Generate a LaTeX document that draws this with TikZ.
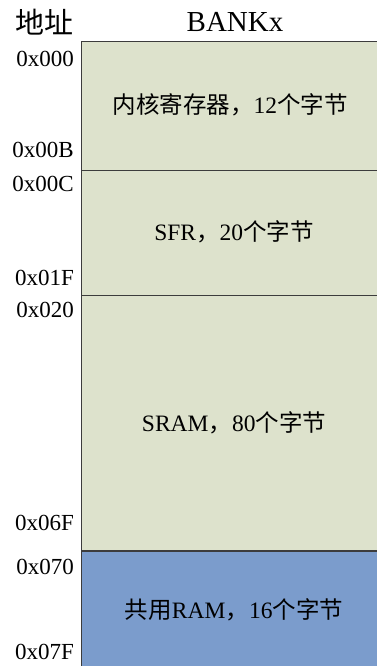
\documentclass[tikz,border=0pt]{standalone}
\usepackage{fontspec}
\setmainfont{Liberation Serif}
\newfontfamily\cjk{Noto Sans CJK SC}
\definecolor{cellgreen}{RGB}{221,226,204}
\definecolor{cellblue}{RGB}{123,156,204}
\definecolor{edge}{RGB}{60,60,60}
\begin{document}
\begin{tikzpicture}[x=1pt,y=-1pt,
  addr/.style={anchor=east,inner sep=0pt,font=\fontsize{23}{23}\selectfont},
  head/.style={inner sep=0pt,font=\fontsize{29}{29}\selectfont},
  celltext/.style={inner sep=0pt,font=\fontsize{23.5}{23.5}\selectfont}]
\useasboundingbox (0,0) rectangle (377,666);
\fill[cellgreen] (81,42) rectangle (380,551);
\fill[cellblue] (81,551) rectangle (380,670);
\draw[edge,line width=1pt] (81,42) -- (380,42);
\draw[edge,line width=1pt] (81,170) -- (380,170);
\draw[edge,line width=1pt] (81,295.5) -- (380,295.5);
\draw[edge,line width=2pt] (81,551) -- (380,551);
\draw[edge,line width=1pt] (81,42) -- (81,670);
\node[head] (hdaddr) at (44,22) {\cjk 地址};
\node[head] (hdbank) at (235,22) {BANKx};
\node[addr] (a0) at (74,59) {0x000};
\node[addr] (a1) at (74,150) {0x00B};
\node[addr] (a2) at (74,184) {0x00C};
\node[addr] (a3) at (74,278) {0x01F};
\node[addr] (a4) at (74,310) {0x020};
\node[addr] (a5) at (74,523) {0x06F};
\node[addr] (a6) at (74,567) {0x070};
\node[addr] (a7) at (74,652) {0x07F};
\node[celltext] (c0) at (230,105) {{\cjk 内核寄存器，}12{\cjk 个字节}};
\node[celltext] (c1) at (234,232) {SFR{\cjk ，}20{\cjk 个字节}};
\node[celltext] (c2) at (234,423) {SRAM{\cjk ，}80{\cjk 个字节}};
\node[celltext] (c3) at (234,610) {{\cjk 共用}RAM{\cjk ，}16{\cjk 个字节}};
\end{tikzpicture}
\end{document}
